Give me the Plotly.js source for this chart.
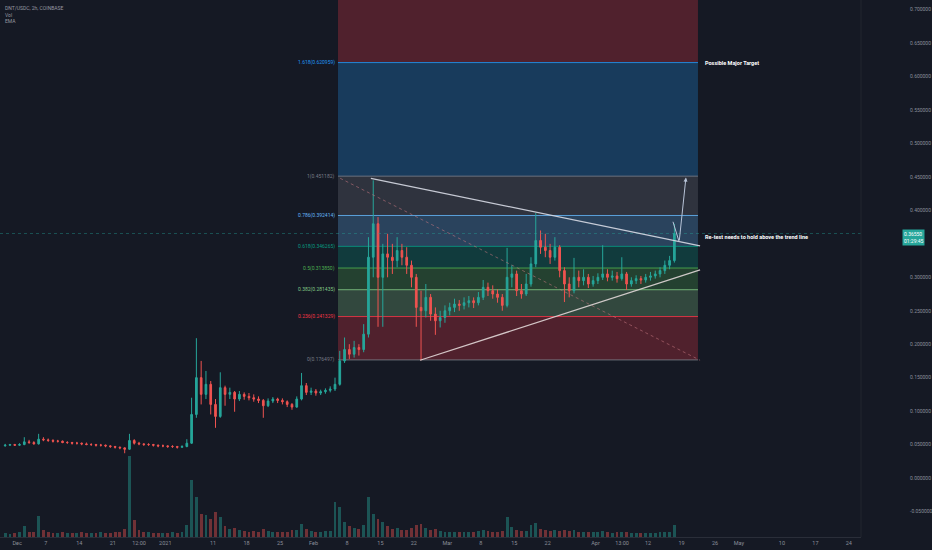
<!DOCTYPE html>
<html><head><meta charset="utf-8">
<script src="https://cdn.plot.ly/plotly-3.0.1.min.js"></script>
<style>html,body{margin:0;padding:0;background:#151924;}#c{width:932px;height:550px;}</style>
</head><body><div id="c"></div>
<script>
// ---- data (daily candles, first candle 2020-11-28) ----
const startDate = '2020-11-28';
const open  = [0.048,0.049,0.050,0.049,0.050,0.054,0.053,0.051,0.058,0.057,0.056,0.055,0.055,0.053,0.053,0.052,0.052,0.051,0.050,0.050,0.049,0.049,0.048,0.047,0.046,0.045,0.043,0.056,0.052,0.051,0.050,0.050,0.049,0.048,0.048,0.047,0.047,0.046,0.047,0.052,0.095,0.150,0.125,0.140,0.110,0.092,0.135,0.125,0.128,0.118,0.125,0.122,0.120,0.118,0.116,0.108,0.115,0.118,0.116,0.114,0.110,0.106,0.118,0.138,0.128,0.130,0.127,0.129,0.131,0.133,0.140,0.175,0.192,0.185,0.195,0.192,0.215,0.330,0.380,0.300,0.335,0.330,0.325,0.340,0.330,0.318,0.300,0.255,0.250,0.270,0.245,0.235,0.240,0.250,0.255,0.260,0.258,0.262,0.265,0.262,0.270,0.285,0.280,0.275,0.270,0.258,0.300,0.305,0.280,0.275,0.290,0.320,0.355,0.345,0.340,0.330,0.345,0.310,0.290,0.280,0.300,0.295,0.300,0.290,0.295,0.300,0.305,0.300,0.302,0.298,0.305,0.290,0.295,0.298,0.296,0.300,0.302,0.305,0.310,0.318,0.325];
const high  = [0.051,0.051,0.051,0.052,0.061,0.057,0.055,0.066,0.061,0.059,0.058,0.057,0.056,0.055,0.054,0.054,0.053,0.053,0.052,0.051,0.051,0.050,0.049,0.048,0.047,0.046,0.066,0.058,0.054,0.052,0.052,0.051,0.050,0.050,0.049,0.049,0.048,0.049,0.058,0.120,0.209,0.175,0.160,0.145,0.118,0.158,0.138,0.135,0.130,0.130,0.128,0.127,0.125,0.122,0.118,0.119,0.121,0.120,0.119,0.116,0.112,0.122,0.157,0.142,0.135,0.133,0.132,0.134,0.137,0.150,0.190,0.210,0.200,0.205,0.200,0.230,0.360,0.445,0.390,0.350,0.365,0.350,0.360,0.350,0.345,0.325,0.305,0.280,0.290,0.275,0.255,0.250,0.258,0.262,0.268,0.266,0.270,0.272,0.270,0.278,0.296,0.292,0.288,0.282,0.275,0.344,0.318,0.310,0.290,0.305,0.330,0.396,0.370,0.365,0.350,0.360,0.348,0.315,0.300,0.329,0.310,0.312,0.305,0.302,0.306,0.348,0.312,0.310,0.308,0.330,0.308,0.300,0.303,0.302,0.305,0.308,0.310,0.315,0.325,0.332,0.380];
const low   = [0.047,0.048,0.048,0.048,0.049,0.051,0.050,0.050,0.055,0.054,0.053,0.053,0.052,0.051,0.050,0.050,0.049,0.049,0.048,0.047,0.047,0.046,0.045,0.044,0.043,0.037,0.042,0.050,0.049,0.048,0.048,0.047,0.046,0.046,0.045,0.045,0.044,0.045,0.046,0.051,0.090,0.110,0.118,0.095,0.075,0.090,0.108,0.118,0.099,0.115,0.117,0.116,0.114,0.112,0.090,0.106,0.112,0.112,0.110,0.106,0.102,0.105,0.116,0.124,0.124,0.123,0.124,0.126,0.128,0.130,0.138,0.172,0.178,0.180,0.183,0.188,0.210,0.300,0.226,0.226,0.300,0.305,0.315,0.318,0.305,0.285,0.226,0.176,0.240,0.235,0.214,0.225,0.232,0.243,0.248,0.250,0.252,0.255,0.254,0.258,0.266,0.272,0.268,0.262,0.250,0.255,0.285,0.272,0.268,0.272,0.286,0.315,0.335,0.330,0.320,0.325,0.300,0.263,0.270,0.276,0.285,0.288,0.284,0.286,0.290,0.296,0.294,0.295,0.292,0.295,0.281,0.286,0.290,0.290,0.292,0.295,0.298,0.300,0.305,0.312,0.322];
const close = [0.049,0.050,0.049,0.050,0.054,0.053,0.051,0.058,0.057,0.056,0.055,0.055,0.053,0.053,0.052,0.052,0.051,0.050,0.050,0.049,0.049,0.048,0.047,0.046,0.045,0.043,0.056,0.052,0.051,0.050,0.050,0.049,0.048,0.048,0.047,0.047,0.046,0.047,0.052,0.095,0.150,0.125,0.140,0.110,0.092,0.135,0.125,0.128,0.118,0.125,0.122,0.120,0.118,0.116,0.108,0.115,0.118,0.116,0.114,0.110,0.106,0.118,0.138,0.128,0.130,0.127,0.129,0.131,0.133,0.140,0.175,0.192,0.185,0.195,0.192,0.215,0.330,0.380,0.300,0.335,0.330,0.325,0.340,0.330,0.318,0.300,0.255,0.250,0.270,0.245,0.235,0.240,0.250,0.255,0.260,0.258,0.262,0.265,0.262,0.270,0.285,0.280,0.275,0.270,0.258,0.300,0.305,0.280,0.275,0.290,0.320,0.355,0.345,0.340,0.330,0.345,0.310,0.290,0.280,0.300,0.295,0.300,0.290,0.295,0.300,0.305,0.300,0.302,0.298,0.305,0.290,0.295,0.298,0.296,0.300,0.302,0.305,0.310,0.318,0.325,0.3655];
const volume = [1.2,1.0,1.3,1.5,3.2,1.6,1.4,6.2,2.0,1.5,1.3,1.2,1.4,1.1,1.3,1.2,1.5,1.2,1.1,1.3,1.4,1.2,1.3,1.5,1.6,2.5,24,5,2.2,1.5,1.4,1.3,1.2,1.3,1.2,1.4,1.3,1.5,3.5,17,12,7,6.5,5.5,7.5,6,3.2,2.5,2.8,2.0,1.8,1.6,1.7,1.5,2.4,1.8,1.6,1.5,1.4,1.6,2.0,2.2,3.8,2.4,1.8,1.6,1.5,1.7,1.8,10.5,9,4.5,3.2,2.6,2.4,3.5,12,7,5.5,4.5,3.2,2.5,2.8,2.2,2.0,2.6,3.5,4,2.8,2.2,2.4,1.8,1.6,1.5,1.6,1.4,1.5,1.6,1.4,1.7,2.2,1.8,1.6,1.5,1.8,6,3,2,1.8,1.9,3.6,4.2,2.4,2.2,1.8,2.0,1.9,2.2,1.8,2.0,1.6,1.5,1.4,1.5,1.4,1.8,1.4,1.3,1.4,1.5,1.6,1.3,1.2,1.3,1.2,1.3,1.2,1.4,1.5,1.6,3.5];

// Fibonacci retracement
const fibRatios = [0, 0.236, 0.382, 0.5, 0.618, 0.786, 1, 1.618, 2.618];
const fibPrices = [0.176497, 0.241329, 0.281435, 0.313850, 0.346265, 0.392414, 0.451182, 0.620959, 0.895659];
const fibColors = ['#787b86','#f23645','#81c784','#4caf50','#089981','#64b5f6','#787b86','#2196f3','#f23645'];
const fibStart = '2021-02-06 03:00', fibEnd = '2021-04-22 10:30';

// trend lines [x0, y0, x1, y1]
const downTrend = ['2021-02-13 00:00', 0.448, '2021-04-22 21:00', 0.347];
const upTrend   = ['2021-02-23 07:00', 0.176, '2021-04-22 21:00', 0.311];
const fibDiag   = ['2021-02-06 14:00', 0.448, '2021-04-22 21:00', 0.176];
const arrowPath = [['2021-04-17 05:00', 0.383], ['2021-04-18 12:00', 0.353], ['2021-04-19 22:00', 0.449]];

const xTickVals = ['2020-12-01','2020-12-07','2020-12-14','2020-12-21','2020-12-26 12:00','2021-01-01','2021-01-11','2021-01-18','2021-01-25','2021-02-01','2021-02-08','2021-02-15','2021-02-22','2021-03-01','2021-03-08','2021-03-15','2021-03-22','2021-04-01','2021-04-06 13:00','2021-04-12','2021-04-19','2021-04-26','2021-05-01','2021-05-10','2021-05-17','2021-05-24'];
const xTickText = ['Dec','7','14','21','12:00','2021','11','18','25','Feb','8','15','22','Mar','8','15','22','Apr','13:00','12','19','26','May','10','17','24'];
const yTickVals = [-0.05,0,0.05,0.1,0.15,0.2,0.25,0.3,0.4,0.45,0.5,0.55,0.6,0.65,0.7];
const yTickText = ['-0.050000','0.000000','0.050000','0.100000','0.150000','0.200000','0.250000','0.300000','0.400000','0.450000','0.500000','0.550000','0.600000','0.650000','0.700000'];

const lastPrice = 0.3655;
const badgeText = '0.36550<br>01:29:45';

// ---- build ----
const dates = [];
{
  const d0 = new Date(startDate + 'T12:00:00Z');
  for (let i = 0; i < close.length; i++) {
    const d = new Date(d0.getTime() + i * 86400000);
    dates.push(d.toISOString().slice(0, 10) + ' 12:00');
  }
}
const UP = '#26a69a', DN = '#ef5350';
const volColors = close.map((c, i) => c >= open[i] ? 'rgba(38,166,154,0.42)' : 'rgba(239,83,80,0.42)');

const traces = [
  {type:'bar', x:dates, y:volume, yaxis:'y2', marker:{color:volColors, line:{width:0}}, width:86400000*0.6, hoverinfo:'skip'},
  {type:'candlestick', x:dates, open:open, high:high, low:low, close:close,
   increasing:{line:{color:UP, width:1}, fillcolor:UP},
   decreasing:{line:{color:DN, width:1}, fillcolor:DN},
   whiskerwidth:0, hoverinfo:'skip'}
];

const shapes = [];
const annotations = [];
function hex2rgba(h, a){const n=parseInt(h.slice(1),16);return `rgba(${n>>16},${(n>>8)&255},${n&255},${a})`;}
for (let i = 1; i < fibPrices.length; i++) {
  shapes.push({type:'rect', xref:'x', yref:'y', x0:fibStart, x1:fibEnd, y0:fibPrices[i-1], y1:fibPrices[i],
    fillcolor:hex2rgba(fibColors[i],0.27), line:{width:0}, layer:'below'});
}
for (let i = 0; i < fibPrices.length; i++) {
  shapes.push({type:'line', xref:'x', yref:'y', x0:fibStart, x1:fibEnd, y0:fibPrices[i], y1:fibPrices[i],
    line:{color:hex2rgba(fibColors[i],0.85), width:1}, layer:'below'});
  if (fibPrices[i] < 0.71) {
    annotations.push({xref:'x', yref:'y', x:fibStart, y:fibPrices[i], xanchor:'right', yanchor:'middle', xshift:-1,
      text:`${fibRatios[i]}(${fibPrices[i].toFixed(6)})`, showarrow:false,
      font:{family:'Roboto', size:5, color:fibColors[i]}});
  }
}
// price line
shapes.push({type:'line', xref:'paper', yref:'y', x0:0, x1:1, y0:lastPrice, y1:lastPrice,
  line:{color:'rgba(38,166,154,0.4)', width:1, dash:'dot'}});
// trend lines
shapes.push({type:'line', xref:'x', yref:'y', x0:fibDiag[0], y0:fibDiag[1], x1:fibDiag[2], y1:fibDiag[3],
  line:{color:'rgba(200,120,130,0.55)', width:1, dash:'dot'}});
shapes.push({type:'line', xref:'x', yref:'y', x0:downTrend[0], y0:downTrend[1], x1:downTrend[2], y1:downTrend[3],
  line:{color:'rgba(215,218,228,0.9)', width:1.3}});
shapes.push({type:'line', xref:'x', yref:'y', x0:upTrend[0], y0:upTrend[1], x1:upTrend[2], y1:upTrend[3],
  line:{color:'rgba(225,215,215,0.9)', width:1.3}});
// arrow
shapes.push({type:'line', xref:'x', yref:'y', x0:arrowPath[0][0], y0:arrowPath[0][1], x1:arrowPath[1][0], y1:arrowPath[1][1],
  line:{color:'#b8c4d8', width:1}});
annotations.push({xref:'x', yref:'y', axref:'x', ayref:'y', x:arrowPath[2][0], y:arrowPath[2][1],
  ax:arrowPath[1][0], ay:arrowPath[1][1], showarrow:true, arrowhead:2, arrowsize:0.8, arrowwidth:1, arrowcolor:'#b8c4d8', text:''});
// separator of price scale
shapes.push({type:'line', xref:'paper', yref:'paper', x0:1, x1:1, y0:0, y1:1, line:{color:'#22262f', width:1}});

// text notes
annotations.push({xref:'paper', yref:'y', x:703/861, y:fibPrices[7], xanchor:'left', yanchor:'middle', showarrow:false,
  text:'<b>Possible Major Target</b>', font:{family:'Roboto', size:5.5, color:'#ffffff'}});
annotations.push({xref:'paper', yref:'y', x:703/861, y:0.36, xanchor:'left', yanchor:'middle', showarrow:false,
  text:'<b>Re-test needs to hold above the trend line</b>', font:{family:'Roboto', size:5.5, color:'#ffffff'}});
// legend text top-left
annotations.push({xref:'paper', yref:'paper', x:0.004, y:1, xanchor:'left', yanchor:'top', yshift:-3, showarrow:false, align:'left',
  text:'DNT/USDC, 2h, COINBASE<br>Vol<br>EMA', font:{family:'Roboto', size:5, color:'#9598a1'}});
// price badge
annotations.push({xref:'paper', yref:'y', x:902/861, y:lastPrice, xanchor:'left', yanchor:'top', yshift:4, showarrow:false,
  text:badgeText, bgcolor:'#26a69a', borderpad:1, align:'left', font:{family:'Roboto', size:5, color:'#ffffff'}});

const layout = {
  width:932, height:550,
  paper_bgcolor:'#151924', plot_bgcolor:'#151924',
  margin:{l:0, r:71, t:0, b:13},
  showlegend:false, dragmode:false,
  xaxis:{type:'date', range:['2020-11-27 10:00','2021-05-26 13:00'], rangeslider:{visible:false},
    tickmode:'array', tickvals:xTickVals, ticktext:xTickText, tickfont:{family:'Roboto', size:5.5, color:'#8a8e99'},
    showgrid:false, zeroline:false, showline:true, linecolor:'#2a2e39', ticks:'', fixedrange:true},
  yaxis:{range:[-0.0882,0.7145], side:'right', tickmode:'array', tickvals:yTickVals, ticktext:yTickText,
    tickfont:{family:'Roboto', size:5, color:'#8a8e99'}, ticklabelstandoff:48,
    showgrid:false, zeroline:false, showline:false, ticks:'', fixedrange:true},
  yaxis2:{overlaying:'y', range:[0,160], visible:false, fixedrange:true},
  boxgap:0.5,
  shapes:shapes, annotations:annotations, bargap:0
};
Plotly.newPlot('c', traces, layout, {staticPlot:true, displayModeBar:false});
</script>
</body></html>
